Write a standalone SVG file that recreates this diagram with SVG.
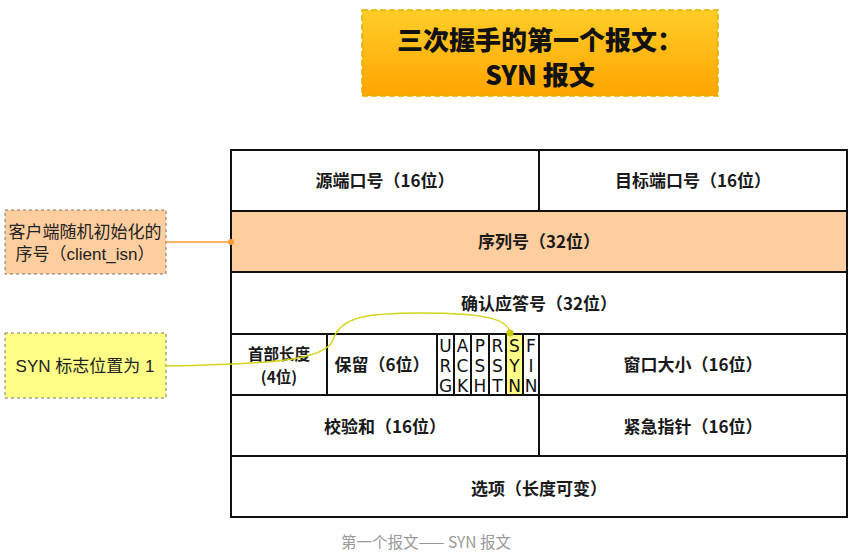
<svg xmlns="http://www.w3.org/2000/svg" width="852" height="553" viewBox="0 0 852 553">
<defs>
<linearGradient id="tg" x1="0" y1="0" x2="0" y2="1">
<stop offset="0" stop-color="#ffcd28"/>
<stop offset="1" stop-color="#ffa500"/>
</linearGradient>
<style>
.cell{fill:#ffffff;stroke:#111;stroke-width:2}
.t{font-family:"Noto Sans CJK SC","Noto Sans",sans-serif;font-weight:bold;font-size:17px;fill:#1a1a1a;text-anchor:middle}
.f{font-family:"DejaVu Sans","Noto Sans",sans-serif;font-size:17px;fill:#111;text-anchor:middle}
.note{font-family:"Liberation Sans","Noto Sans CJK SC",sans-serif;font-size:17px;fill:#222;text-anchor:middle}
.nbox{stroke:#777;stroke-width:1;stroke-dasharray:3 3}
</style>
</defs>
<rect width="852" height="553" fill="#fff"/>

<g id="title">
<rect x="362" y="10" width="356" height="86" fill="url(#tg)" stroke="#e0b000" stroke-width="1.5" stroke-dasharray="6 3"/>
<text x="540" y="50" font-family="'Noto Sans CJK SC',sans-serif" font-weight="900" font-size="26" text-anchor="middle" fill="#111">三次握手的第一个报文：</text>
<text x="540" y="85" font-family="'Noto Sans CJK SC',sans-serif" font-weight="900" font-size="26" text-anchor="middle" fill="#111">SYN 报文</text>
</g>

<g id="row1">
<rect class="cell" x="231" y="150" width="308" height="61"/>
<rect class="cell" x="539" y="150" width="308" height="61"/>
<text class="t" x="385" y="187">源端口号（16位）</text>
<text class="t" x="693" y="187">目标端口号（16位）</text>
</g>
<g id="seq">
<rect class="cell" x="231" y="211" width="616" height="61" style="fill:#ffce9f"/>
<text class="t" x="539" y="248">序列号（32位）</text>
</g>
<g id="ack">
<rect class="cell" x="231" y="272" width="616" height="62"/>
<text class="t" x="539" y="310">确认应答号（32位）</text>
</g>
<g id="row4">
<rect class="cell" x="231" y="334" width="96" height="61"/>
<text class="t" x="279" y="360" style="font-size:15.5px">首部长度</text>
<text class="t" x="279" y="383" style="font-size:15.5px">(4位)</text>
<rect class="cell" x="327" y="334" width="110" height="61"/>
<text class="t" x="382" y="371">保留（6位）</text>
<rect class="cell" x="539" y="334" width="308" height="61"/>
<text class="t" x="693" y="371">窗口大小（16位）</text>
</g>
<g id="flags">
<rect class="cell" x="437" y="334" width="17" height="61"/>
<rect class="cell" x="454" y="334" width="17" height="61"/>
<rect class="cell" x="471" y="334" width="18" height="61"/>
<rect class="cell" x="489" y="334" width="17" height="61"/>
<rect class="cell" x="506" y="334" width="17" height="61" style="fill:#ffff88"/>
<rect class="cell" x="523" y="334" width="16" height="61"/>
<text class="f" x="445.5" y="352">U</text><text class="f" x="445.5" y="372">R</text><text class="f" x="445.5" y="392">G</text>
<text class="f" x="462.5" y="352">A</text><text class="f" x="462.5" y="372">C</text><text class="f" x="462.5" y="392">K</text>
<text class="f" x="480" y="352">P</text><text class="f" x="480" y="372">S</text><text class="f" x="480" y="392">H</text>
<text class="f" x="497.5" y="352">R</text><text class="f" x="497.5" y="372">S</text><text class="f" x="497.5" y="392">T</text>
<text class="f" x="514.5" y="352">S</text><text class="f" x="514.5" y="372">Y</text><text class="f" x="514.5" y="392">N</text>
<text class="f" x="531" y="352">F</text><text class="f" x="531" y="372">I</text><text class="f" x="531" y="392">N</text>
</g>
<g id="row5">
<rect class="cell" x="231" y="395" width="308" height="61"/>
<rect class="cell" x="539" y="395" width="308" height="61"/>
<text class="t" x="385" y="433">校验和（16位）</text>
<text class="t" x="693" y="433">紧急指针（16位）</text>
</g>
<g id="opt">
<rect class="cell" x="231" y="456" width="616" height="61"/>
<text class="t" x="539" y="495">选项（长度可变）</text>
</g>

<g id="note-isn">
<rect class="nbox" x="5" y="210" width="161" height="64" fill="#ffce9f"/>
<text class="note" x="85" y="238">客户端随机初始化的</text>
<text class="note" x="85" y="260">序号（client_isn）</text>
</g>
<g id="note-syn">
<rect class="nbox" x="5" y="333" width="161" height="65" fill="#ffff88"/>
<text class="note" x="85" y="372">SYN 标志位置为 1</text>
</g>

<g id="connectors">
<line x1="166" y1="242" x2="231" y2="242" stroke="#ff9933" stroke-width="1.5"/>
<circle cx="231" cy="242" r="3" fill="#ff9933"/>
<path d="M166,366 C260,364 325,362 333,340 C340,316 370,313 420,313 C490,313 508,320 510,333" fill="none" stroke="#d4d41a" stroke-width="1.5"/>
<circle cx="510" cy="333" r="3.5" fill="#c8c800"/>
</g>

<text x="426" y="548" font-family="'Noto Sans CJK SC',sans-serif" font-size="15.5" fill="#999" text-anchor="middle">第一个报文—— SYN 报文</text>
</svg>
